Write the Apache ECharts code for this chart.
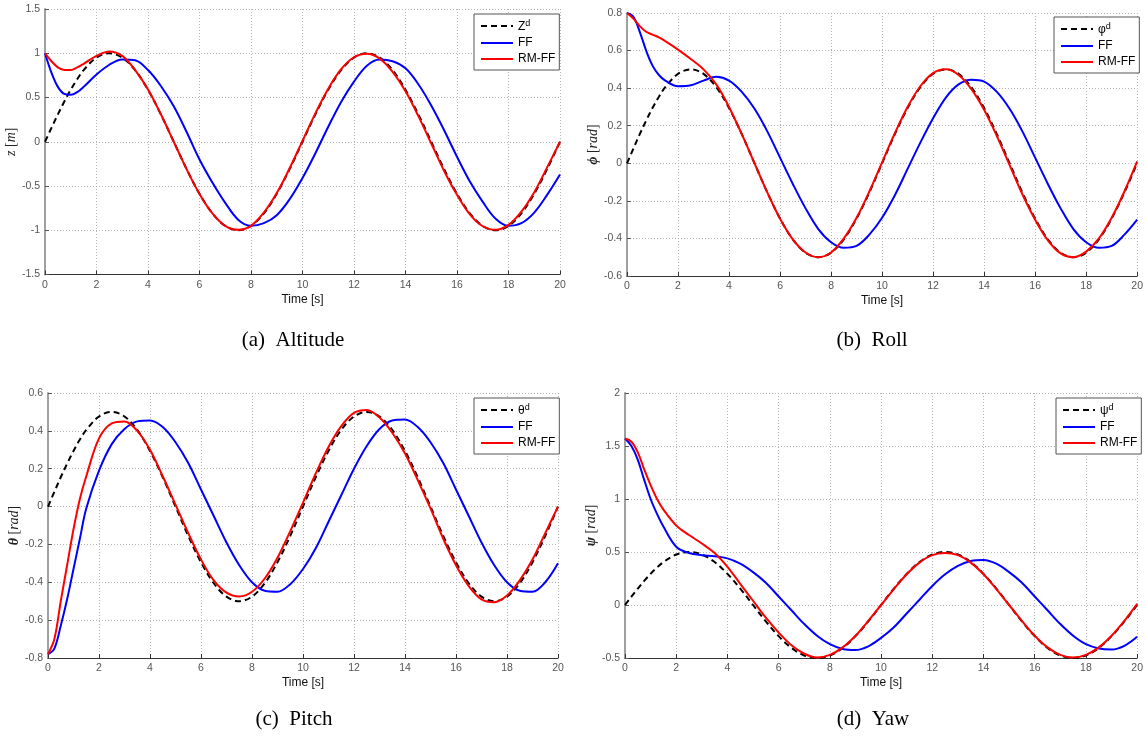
<!DOCTYPE html>
<html>
<head>
<meta charset="utf-8">
<script src="https://cdn.jsdelivr.net/npm/echarts@6/dist/echarts.min.js"></script>
<style>
html,body{margin:0;padding:0;background:#fff;}
#chart{width:1146px;height:749px;}
</style>
</head>
<body>
<div id="chart"></div>
<script>
// ---- data ----
const time = [0,0.25,0.5,0.75,1,1.25,1.5,2,2.5,3,3.5,4,4.5,5,5.5,6,6.5,7,7.5,8,8.5,9,9.5,10,10.5,11,11.5,12,12.5,13,13.5,14,14.5,15,15.5,16,16.5,17,17.5,18,18.5,19,19.5,20];

// (a) Altitude
const zRef = [0,0.156,0.309,0.454,0.588,0.707,0.809,0.951,1,0.951,0.809,0.588,0.309,0,-0.309,-0.588,-0.809,-0.951,-1,-0.951,-0.809,-0.588,-0.309,0,0.309,0.588,0.809,0.951,1,0.951,0.809,0.588,0.309,0,-0.309,-0.588,-0.809,-0.951,-1,-0.951,-0.809,-0.588,-0.309,0];
const zFF  = [1,0.78,0.62,0.54,0.53,0.56,0.62,0.76,0.87,0.93,0.92,0.81,0.63,0.40,0.11,-0.20,-0.46,-0.69,-0.88,-0.95,-0.92,-0.83,-0.65,-0.41,-0.13,0.17,0.45,0.68,0.86,0.93,0.91,0.83,0.65,0.41,0.13,-0.17,-0.45,-0.68,-0.87,-0.95,-0.92,-0.80,-0.60,-0.37];
const zRM  = [1,0.91,0.84,0.81,0.81,0.84,0.88,0.97,1.02,0.97,0.81,0.59,0.31,0.0,-0.31,-0.59,-0.81,-0.95,-0.995,-0.95,-0.80,-0.58,-0.30,0.01,0.32,0.60,0.82,0.955,0.995,0.94,0.79,0.57,0.29,-0.02,-0.33,-0.60,-0.82,-0.955,-0.995,-0.94,-0.79,-0.57,-0.29,0];

// (b) Roll
const phRef = [0,0.078,0.155,0.227,0.294,0.354,0.405,0.476,0.5,0.476,0.405,0.294,0.155,0,-0.155,-0.294,-0.405,-0.476,-0.5,-0.476,-0.405,-0.294,-0.155,0,0.155,0.294,0.405,0.476,0.5,0.476,0.405,0.294,0.155,0,-0.155,-0.294,-0.405,-0.476,-0.5,-0.476,-0.405,-0.294,-0.155,0];
const phFF  = [0.8,0.78,0.70,0.60,0.52,0.47,0.44,0.41,0.415,0.44,0.46,0.44,0.38,0.29,0.17,0.03,-0.11,-0.24,-0.35,-0.42,-0.45,-0.44,-0.38,-0.29,-0.17,-0.03,0.11,0.24,0.35,0.42,0.445,0.435,0.38,0.29,0.17,0.03,-0.11,-0.24,-0.35,-0.42,-0.45,-0.44,-0.38,-0.30];
const phRM  = [0.8,0.77,0.73,0.70,0.685,0.67,0.65,0.605,0.555,0.50,0.42,0.30,0.155,0.0,-0.155,-0.295,-0.405,-0.475,-0.5,-0.475,-0.40,-0.29,-0.15,0.005,0.16,0.30,0.41,0.48,0.5,0.47,0.395,0.285,0.145,-0.01,-0.165,-0.30,-0.41,-0.48,-0.5,-0.47,-0.40,-0.29,-0.15,0.01];

// (c) Pitch
const thRef = [0,0.078,0.155,0.227,0.294,0.354,0.405,0.476,0.5,0.476,0.405,0.294,0.155,0,-0.155,-0.294,-0.405,-0.476,-0.5,-0.476,-0.405,-0.294,-0.155,0,0.155,0.294,0.405,0.476,0.5,0.476,0.405,0.294,0.155,0,-0.155,-0.294,-0.405,-0.476,-0.5,-0.476,-0.405,-0.294,-0.155,0];
const thFF  = [-0.78,-0.75,-0.63,-0.49,-0.33,-0.17,-0.01,0.19,0.33,0.41,0.45,0.455,0.42,0.34,0.23,0.09,-0.05,-0.19,-0.31,-0.40,-0.445,-0.45,-0.41,-0.33,-0.22,-0.08,0.06,0.20,0.32,0.41,0.455,0.46,0.42,0.34,0.23,0.09,-0.05,-0.19,-0.31,-0.40,-0.445,-0.45,-0.40,-0.30];
const thRM  = [-0.78,-0.70,-0.50,-0.31,-0.12,0.04,0.16,0.36,0.44,0.45,0.40,0.30,0.16,0.01,-0.14,-0.28,-0.39,-0.455,-0.475,-0.45,-0.38,-0.27,-0.13,0.02,0.175,0.315,0.425,0.495,0.51,0.47,0.39,0.28,0.14,-0.01,-0.17,-0.31,-0.42,-0.49,-0.505,-0.47,-0.39,-0.28,-0.14,0];

// (d) Yaw
const psRef = [0,0.078,0.155,0.227,0.294,0.354,0.405,0.476,0.5,0.476,0.405,0.294,0.155,0,-0.155,-0.294,-0.405,-0.476,-0.5,-0.476,-0.405,-0.294,-0.155,0,0.155,0.294,0.405,0.476,0.5,0.476,0.405,0.294,0.155,0,-0.155,-0.294,-0.405,-0.476,-0.5,-0.476,-0.405,-0.294,-0.155,0];
const psFF  = [1.57,1.50,1.37,1.18,1.0,0.86,0.74,0.55,0.49,0.47,0.46,0.44,0.39,0.31,0.21,0.08,-0.05,-0.18,-0.29,-0.37,-0.415,-0.425,-0.39,-0.31,-0.21,-0.08,0.05,0.18,0.29,0.37,0.415,0.425,0.39,0.31,0.21,0.08,-0.05,-0.18,-0.29,-0.37,-0.41,-0.42,-0.385,-0.30];
const psRM  = [1.57,1.54,1.44,1.28,1.13,1.0,0.90,0.75,0.66,0.58,0.49,0.36,0.20,0.04,-0.12,-0.26,-0.38,-0.46,-0.495,-0.47,-0.40,-0.29,-0.15,0,0.15,0.29,0.40,0.47,0.49,0.47,0.40,0.29,0.15,0,-0.15,-0.29,-0.40,-0.47,-0.495,-0.47,-0.40,-0.29,-0.15,0.01];

// axis ranges / ticks
const yA = {min:-1.5, max:1.5, interval:0.5};
const yB = {min:-0.6, max:0.8, interval:0.2};
const yC = {min:-0.8, max:0.6, interval:0.2};
const yD = {min:-0.5, max:2, interval:0.5};

const refNames = ['Zd','φd','θd','ψd'];
const refSym   = ['Z','φ','θ','ψ'];
const yNames = ['{i|z} [{i|m}]','{b|ϕ} [{i|rad}]','{b|θ} [{i|rad}]','{b|ψ} [{i|rad}]'];
const captions = ['(a)  Altitude','(b)  Roll','(c)  Pitch','(d)  Yaw'];

// ---- layout ----
const grids = [
  {left:45, top:9, width:515, height:265.5},
  {left:627, top:13, width:512, height:263},
  {left:48, top:393, width:510, height:265},
  {left:625, top:393, width:515, height:265}
];
const legendPos = [{left:474,top:14},{left:1054,top:17},{left:474,top:398},{left:1056,top:398}];
const capPos = [{x:293,y:340},{x:872,y:340},{x:294,y:719},{x:873,y:719}];

const sans = "'Liberation Sans', Arial, sans-serif";
const serif = "'Liberation Serif', 'DejaVu Serif', serif";

const panels = [
  {ref:zRef, ff:zFF, rm:zRM, y:yA},
  {ref:phRef, ff:phFF, rm:phRM, y:yB},
  {ref:thRef, ff:thFF, rm:thRM, y:yC},
  {ref:psRef, ff:psFF, rm:psRM, y:yD}
];

const pairs = arr => time.map((t,i)=>[t, arr[i]]);

const xAxes = [], yAxes = [], series = [], legends = [], graphics = [];
panels.forEach((p, gi) => {
  xAxes.push({
    gridIndex: gi, type:'value', min:0, max:20, interval:2,
    axisLine:{onZero:false, lineStyle:{color:'#333', width:1}},
    axisTick:{inside:true, length:4, lineStyle:{color:'#333'}},
    axisLabel:{color:'#555', fontSize:10.5, margin:5, fontFamily:sans},
    splitLine:{show:true, lineStyle:{color:'#b5b5b5', type:[1,2], width:1}},
    name:'Time [s]', nameLocation:'middle', nameGap:19,
    nameTextStyle:{color:'#111', fontSize:12, fontFamily:sans}
  });
  yAxes.push({
    gridIndex: gi, type:'value', min:p.y.min, max:p.y.max, interval:p.y.interval,
    axisLine:{show:true, onZero:false, lineStyle:{color:'#a0a0a0', width:2}},
    axisTick:{show:true, inside:true, length:4, lineStyle:{color:'#555'}},
    axisLabel:{color:'#555', fontSize:10.5, margin:5, fontFamily:sans},
    splitLine:{show:true, lineStyle:{color:'#b5b5b5', type:[1,2], width:1}},
    name: yNames[gi], nameLocation:'middle', nameGap: gi % 2 === 0 ? 22 : 24,
    nameTextStyle:{color:'#222', fontSize:14, fontFamily:serif,
      rich:{
        i:{fontStyle:'italic', fontSize:14, fontFamily:serif, color:'#222'},
        b:{fontStyle:'italic', fontWeight:'bold', fontSize:14, fontFamily:serif, color:'#222'}
      }}
  });
  const common = {type:'line', xAxisIndex:gi, yAxisIndex:gi, showSymbol:false, symbol:'none', smooth:0.35, animation:false};
  series.push(Object.assign({}, common, {name:refNames[gi], data:pairs(p.ref), lineStyle:{color:'#000', width:2, type:[6,4]}, itemStyle:{color:'#000'}, z:2}));
  series.push(Object.assign({}, common, {name:'FF', data:pairs(p.ff), lineStyle:{color:'#0000ff', width:2}, itemStyle:{color:'#0000ff'}, z:3}));
  series.push(Object.assign({}, common, {name:'RM-FF', data:pairs(p.rm), lineStyle:{color:'#ff0000', width:2}, itemStyle:{color:'#ff0000'}, z:4}));
  const sym = refSym[gi], rn = refNames[gi];
  legends.push({
    data:[rn,'FF','RM-FF'], orient:'vertical',
    left:legendPos[gi].left, top:legendPos[gi].top,
    backgroundColor:'#fff', borderColor:'#555', borderWidth:1, borderRadius:0,
    padding:[5,4,5,6], itemGap:4, itemWidth:32, itemHeight:13,
    selectedMode:false,
    itemStyle:{opacity:0},
    formatter: name => name === rn ? '{m|' + sym + '}{s|d}' : name,
    textStyle:{color:'#000', fontSize:12, fontFamily:sans,
      rich:{ m:{fontSize:12, color:'#000', fontFamily:sans, verticalAlign:'bottom', lineHeight:14},
             s:{fontSize:9, color:'#000', fontFamily:sans, verticalAlign:'top', lineHeight:9} }}
  });
  graphics.push({
    type:'text', x:capPos[gi].x, y:capPos[gi].y, silent:true,
    style:{text:captions[gi], fill:'#000', font:'21px ' + serif, textAlign:'center', textVerticalAlign:'middle'}
  });
});

const chart = echarts.init(document.getElementById('chart'), null, {renderer:'canvas'});
chart.setOption({
  backgroundColor:'#fff',
  animation:false,
  grid: grids.map(g => Object.assign({containLabel:false}, g)),
  xAxis: xAxes,
  yAxis: yAxes,
  legend: legends,
  series: series,
  graphic: graphics
});
</script>
</body>
</html>
